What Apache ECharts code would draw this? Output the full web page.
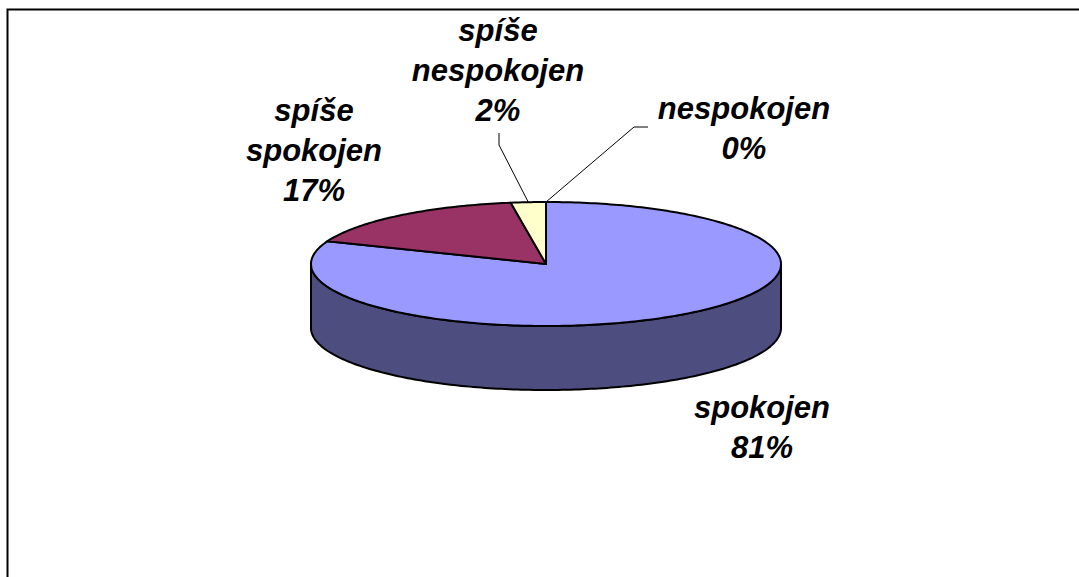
<!DOCTYPE html>
<html>
<head>
<meta charset="utf-8">
<script src="https://cdn.jsdelivr.net/npm/echarts@6/dist/echarts.min.js"></script>
<style>
html,body{margin:0;padding:0;background:#fff;}
#chart{width:1079px;height:577px;}
</style>
</head>
<body>
<div id="chart"></div>
<script>
// ---- data ----
var categories = ['spokojen', 'spíše spokojen', 'spíše nespokojen', 'nespokojen'];
var values = [81.0, 16.6, 2.4, 0];
var percentLabels = ['81%', '17%', '2%', '0%'];

// ---- layout / style (not data) ----
var sliceColors = ['#9999FF', '#993366', '#FFFFCC', '#CCFFFF'];
var sideColors = ['#4D4D80', '#4D1A33', '#808066', '#668080'];
var PIE = {cx: 546, cy: 264, rx: 235, ry: 62, depth: 64};
var labelPos = [
  {x: 762, y: 427},
  {x: 314, y: 150},
  {x: 498, y: 70},
  {x: 744, y: 128}
];
var leaderElbows = [
  null,
  null,
  [[499, 145], [499, 133]],
  [[634, 127], [648, 127]]
];

var total = values.reduce(function (a, b) { return a + b; }, 0);
var starts = [];
(function () {
  var acc = 0;
  for (var i = 0; i < values.length; i++) { starts.push(acc / total * Math.PI * 2); acc += values[i]; }
})();

function pt(theta, dy) {
  return [PIE.cx + PIE.rx * Math.sin(theta), PIE.cy - PIE.ry * Math.cos(theta) + (dy || 0)];
}
function arc(a, b, dy) {
  var pts = [];
  var n = Math.max(2, Math.ceil(Math.abs(b - a) / (Math.PI / 180)));
  for (var k = 0; k <= n; k++) pts.push(pt(a + (b - a) * k / n, dy));
  return pts;
}

function renderItem(params, api) {
  var i = params.dataIndex;
  var v = api.value(0);
  var a = starts[i];
  var b = a + v / total * Math.PI * 2;
  var children = [];
  // side (front half only: theta in [PI/2, 3PI/2])
  var sa = Math.max(a, Math.PI / 2), sb = Math.min(b, Math.PI * 1.5);
  if (sb > sa) {
    var top = arc(sa, sb, 0);
    var bot = arc(sb, sa, PIE.depth);
    children.push({
      type: 'polygon',
      shape: {points: top.concat(bot)},
      style: {fill: sideColors[i], stroke: '#000', lineWidth: 2, lineJoin: 'round'}
    });
  }
  if (b > a) {
    children.push({
      type: 'polygon',
      shape: {points: [[PIE.cx, PIE.cy]].concat(arc(a, b, 0))},
      style: {fill: sliceColors[i], stroke: '#000', lineWidth: 2, lineJoin: 'round'}
    });
  }
  // leader line
  if (leaderElbows[i]) {
    var mid = (a + b) / 2;
    var anchor = pt(mid, 0);
    children.push({
      type: 'polyline',
      shape: {points: [anchor].concat(leaderElbows[i])},
      style: {fill: null, stroke: '#000', lineWidth: 1}
    });
  }
  // label
  var words = categories[i].split(' ');
  children.push({
    type: 'text',
    style: {
      text: words.concat([percentLabels[i]]).join('\n'),
      x: labelPos[i].x, y: labelPos[i].y,
      align: 'center', verticalAlign: 'middle',
      fill: '#000',
      font: 'italic bold 31px "Liberation Sans", Arial, sans-serif',
      lineHeight: 40
    }
  });
  return {type: 'group', children: children};
}

var chart = echarts.init(document.getElementById('chart'), null, {renderer: 'svg'});
chart.setOption({
  backgroundColor: '#fff',
  animation: false,
  graphic: [{
    type: 'rect',
    shape: {x: 7.5, y: 9.5, width: 1200, height: 700},
    style: {fill: null, stroke: '#000', lineWidth: 2},
    silent: true
  }],
  series: [{
    type: 'custom',
    coordinateSystem: 'none',
    renderItem: renderItem,
    data: values.map(function (v) { return [v]; })
  }]
});
</script>
</body>
</html>
